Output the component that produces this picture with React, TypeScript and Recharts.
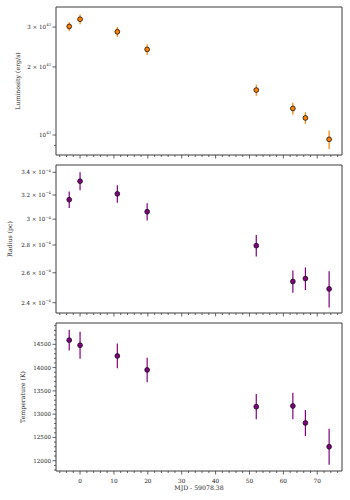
import React from "react";
import {
  ScatterChart,
  Scatter,
  XAxis,
  YAxis,
  ErrorBar,
  ReferenceArea,
} from "recharts";

// days since MJD 59078.38
const mjd = [-3.2, 0, 11, 19.8, 52, 62.8, 66.5, 73.5];

// luminosity in erg/s
const luminosity = [3.02e43, 3.25e43, 2.86e43, 2.39e43, 1.58e43, 1.31e43, 1.19e43, 0.957e43];
const luminosityErr = [0.14e43, 0.16e43, 0.14e43, 0.13e43, 0.09e43, 0.08e43, 0.07e43, 0.09e43];

// radius in pc
const radius = [3.16e-4, 3.32e-4, 3.21e-4, 3.06e-4, 2.795e-4, 2.54e-4, 2.56e-4, 2.49e-4];
const radiusErr = [0.07e-4, 0.08e-4, 0.075e-4, 0.07e-4, 0.08e-4, 0.075e-4, 0.077e-4, 0.12e-4];

// temperature in K
const temperature = [14590, 14480, 14250, 13950, 13160, 13175, 12810, 12300];
const temperatureErr = [222, 290, 265, 262, 272, 286, 280, 387];

const xMajor = [0, 10, 20, 30, 40, 50, 60, 70];
const lumTicks = [9e42, 1e43, 2e43, 3e43];
const lumLabeled = [1e43, 2e43, 3e43];
const radTicks = [2.4e-4, 2.6e-4, 2.8e-4, 3.0e-4, 3.2e-4, 3.4e-4];
const tempMajor = [12000, 12500, 13000, 13500, 14000, 14500];

const xDomain = [-7.1, 77.3];
const lumDomain = [0.816e43, 3.68e43];
const radDomain = [2.335e-4, 3.467e-4];
const tempDomain = [11779, 14958];

const FONT = "DejaVu Serif";
const SPINE = "#3c3c3c";
const TEXT = "#222";
const ORANGE = "#ff8000";
const PURPLE = "#800080";

const xTicks: number[] = [];
for (let v = -6; v <= 76; v += 2) xTicks.push(v);
const tempTicks: number[] = [];
for (let v = 11800; v <= 14900; v += 100) tempTicks.push(v);

const rows = (ys: number[], errs: number[]) =>
  mjd.map((x, i) => ({ x, y: ys[i], err: errs[i] }));

const sup = (mant: string, exp: string) => (
  <>
    <tspan>{mant ? `${mant} × 10` : "10"}</tspan>
    <tspan dy={-2.6} fontSize={3.8}>{exp}</tspan>
  </>
);

const XTick = (showLabel: boolean) => (props: any) => {
  const { x, y, payload } = props;
  const major = xMajor.includes(payload.value);
  return (
    <g>
      <line x1={x} x2={x} y1={y} y2={y + (major ? 3.5 : 2)} stroke={SPINE} strokeWidth={0.8} />
      {showLabel && major && (
        <text x={x} y={y + 11.5} textAnchor="middle" fontSize={5.8} fontFamily={FONT} fill={TEXT}>
          {payload.value}
        </text>
      )}
    </g>
  );
};

const LumTick = (props: any) => {
  const { x, y, payload } = props;
  const v = payload.value;
  const labeled = lumLabeled.some((t) => Math.abs(t - v) / t < 1e-6);
  const m = Math.round(v / 1e43);
  return (
    <g>
      <line x1={x} x2={x - (labeled ? 3.5 : 2)} y1={y} y2={y} stroke={SPINE} strokeWidth={0.8} />
      {labeled && (
        <text x={x - 5} y={y + 2} textAnchor="end" fontSize={5.6} fontFamily={FONT} fill={TEXT}>
          {sup(m === 1 ? "" : String(m), "43")}
        </text>
      )}
    </g>
  );
};

const RadTick = (props: any) => {
  const { x, y, payload } = props;
  const m = parseFloat((payload.value / 1e-4).toFixed(2));
  return (
    <g>
      <line x1={x} x2={x - 3.5} y1={y} y2={y} stroke={SPINE} strokeWidth={0.8} />
      <text x={x - 5} y={y + 2} textAnchor="end" fontSize={5.6} fontFamily={FONT} fill={TEXT}>
        {sup(String(m), "−4")}
      </text>
    </g>
  );
};

const TempTick = (props: any) => {
  const { x, y, payload } = props;
  const major = tempMajor.includes(payload.value);
  return (
    <g>
      <line x1={x} x2={x - (major ? 3.5 : 2)} y1={y} y2={y} stroke={SPINE} strokeWidth={0.8} />
      {major && (
        <text x={x - 5} y={y + 2} textAnchor="end" fontSize={5.6} fontFamily={FONT} fill={TEXT}>
          {payload.value}
        </text>
      )}
    </g>
  );
};

const dot = (fill: string) => (p: any) =>
  <circle cx={p.cx} cy={p.cy} r={2.4} fill={fill} stroke="#111" strokeWidth={0.8} />;

const yLabel = (value: string, offset: number) => ({
  value,
  angle: -90,
  position: "insideLeft" as const,
  offset,
  fill: TEXT,
  style: { textAnchor: "middle", fontSize: 6.2, fontFamily: FONT, fill: TEXT },
});

interface PanelProps {
  top: number;
  height: number;
  marginTop: number;
  xHeight: number;
  data: { x: number; y: number; err: number }[];
  yDomain: number[];
  yTicks: number[];
  yTick: any;
  log?: boolean;
  color: string;
  label: string;
  labelOffset: number;
  bottom?: boolean;
}

const Panel = (p: PanelProps) => (
  <div style={{ position: "absolute", left: 0, top: p.top }}>
    <ScatterChart
      width={350}
      height={p.height}
      margin={{ top: p.marginTop, right: 8, bottom: 0, left: 0 }}
    >
      <XAxis
        type="number"
        dataKey="x"
        domain={xDomain}
        allowDataOverflow
        ticks={xTicks}
        interval={0}
        tickSize={0}
        tickMargin={0}
        tickLine={false}
        axisLine={false}
        height={p.xHeight}
        tick={XTick(!!p.bottom)}
        label={
          p.bottom
            ? {
                value: "MJD - 59078.38",
                position: "insideBottom",
                offset: 10,
                fill: TEXT,
                style: { fontSize: 6.2, fontFamily: FONT, fill: TEXT },
              }
            : undefined
        }
      />
      <YAxis
        type="number"
        dataKey="y"
        scale={p.log ? "log" : "linear"}
        domain={p.yDomain}
        allowDataOverflow
        ticks={p.yTicks}
        interval={0}
        tickSize={0}
        tickMargin={0}
        tickLine={false}
        axisLine={false}
        width={56}
        tick={p.yTick}
        label={yLabel(p.label, p.labelOffset)}
      />
      <ReferenceArea
        x1={xDomain[0]}
        x2={xDomain[1]}
        y1={p.yDomain[0]}
        y2={p.yDomain[1]}
        fill="none"
        stroke={SPINE}
        strokeWidth={1}
        ifOverflow="visible"
      />
      <Scatter data={p.data} shape={dot(p.color)} isAnimationActive={false}>
        <ErrorBar dataKey="err" direction="y" width={0} stroke={p.color} strokeWidth={1.2} />
      </Scatter>
    </ScatterChart>
  </div>
);

export default function App() {
  return (
    <div style={{ position: "absolute", left: 0, top: 0, width: 350, height: 500, background: "#fff" }}>
      <Panel
        top={0}
        height={160}
        marginTop={7}
        xHeight={5}
        data={rows(luminosity, luminosityErr)}
        yDomain={lumDomain}
        yTicks={lumTicks}
        yTick={LumTick}
        log
        color={ORANGE}
        label="Luminosity (erg/s)"
        labelOffset={18}
      />
      <Panel
        top={160}
        height={160}
        marginTop={5}
        xHeight={7}
        data={rows(radius, radiusErr)}
        yDomain={radDomain}
        yTicks={radTicks}
        yTick={RadTick}
        log
        color={PURPLE}
        label="Radius (pc)"
        labelOffset={10}
      />
      <Panel
        top={320}
        height={180}
        marginTop={3}
        xHeight={29}
        data={rows(temperature, temperatureErr)}
        yDomain={tempDomain}
        yTicks={tempTicks}
        yTick={TempTick}
        color={PURPLE}
        label="Temperature (K)"
        labelOffset={23}
        bottom
      />
    </div>
  );
}
